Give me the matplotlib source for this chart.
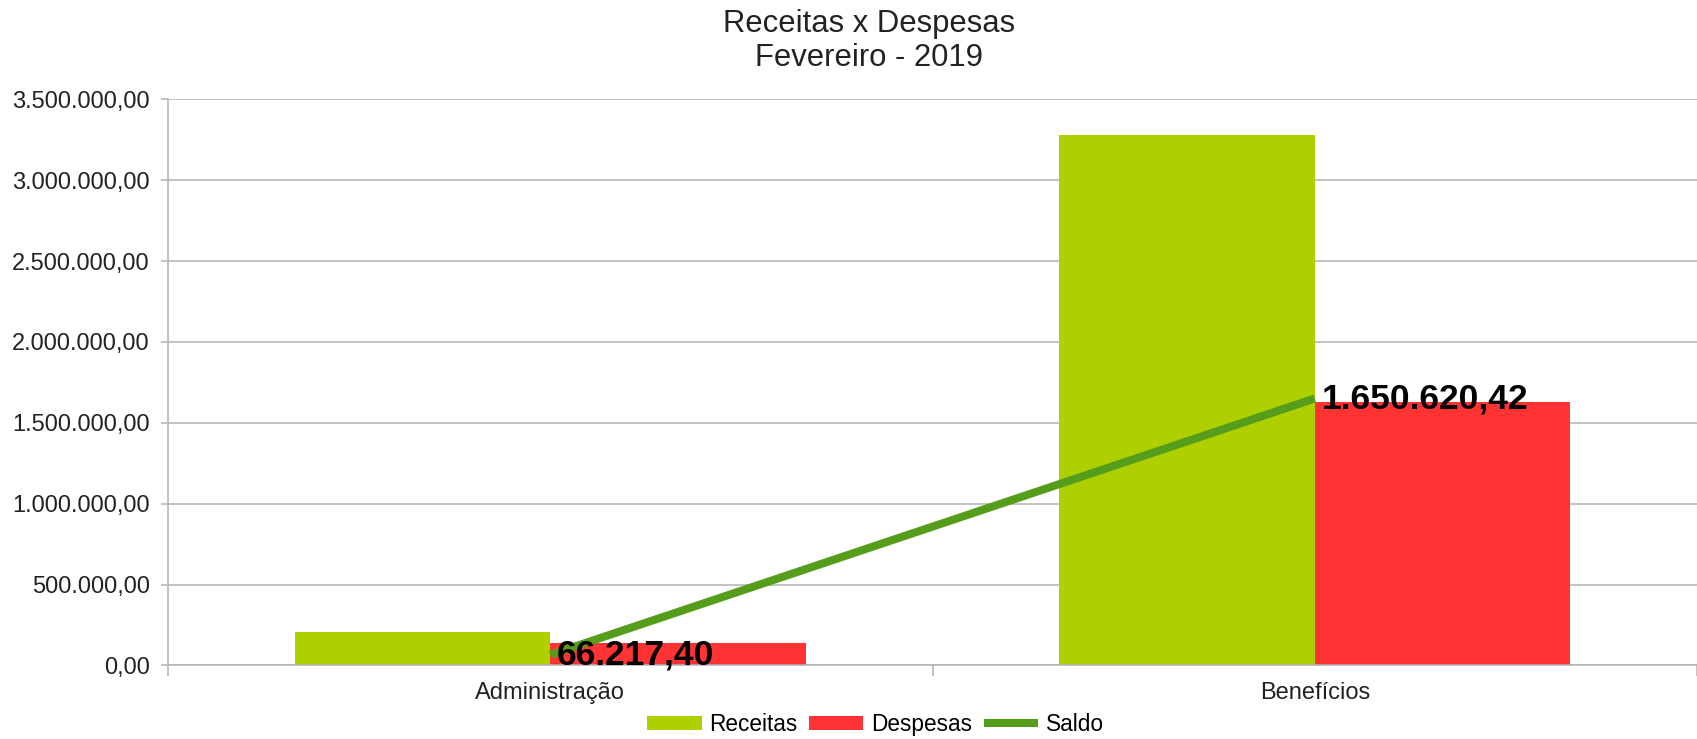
import matplotlib
matplotlib.use("Agg")
import matplotlib.pyplot as plt
from matplotlib.ticker import FuncFormatter

# ---- data ----------------------------------------------------------
categories = ["Administração", "Benefícios"]
receitas = [206000.00, 3280000.00]
despesas = [139782.60, 1629379.58]
saldo = [66217.40, 1650620.42]
saldo_labels = ["66.217,40", "1.650.620,42"]
yticks = [0, 500000, 1000000, 1500000, 2000000, 2500000, 3000000, 3500000]

C_REC = "#aecf00"
C_DES = "#ff3333"
C_SAL = "#579d1c"
GRID = "#b3b3b3"


def br(v, _pos=None):
    s = f"{v:,.2f}"
    return s.replace(",", "X").replace(".", ",").replace("X", ".")


plt.rcParams["font.family"] = ["Liberation Sans", "DejaVu Sans"]

fig = plt.figure(figsize=(16.97, 7.39), dpi=100)
ax = fig.add_axes([0.099, 0.0995, 0.901, 0.766])

x = list(range(len(categories)))
w = 0.334
b1 = ax.bar([i - w / 2 for i in x], receitas, width=w, color=C_REC, label="Receitas", zorder=2)
b2 = ax.bar([i + w / 2 for i in x], despesas, width=w, color=C_DES, label="Despesas", zorder=2)
l1, = ax.plot(x, saldo, color=C_SAL, lw=5.8, label="Saldo", zorder=3, solid_capstyle="butt")

for i, (v, lab) in enumerate(zip(saldo, saldo_labels)):
    ax.annotate(lab, (i, v), xytext=(5, 0), textcoords="offset points",
                ha="left", va="center", fontsize=25.5, fontweight="bold",
                color="black", zorder=4)

ax.set_xlim(-0.5, 1.5)
ax.set_ylim(0, 3500000)
ax.set_yticks(yticks)
ax.yaxis.set_major_formatter(FuncFormatter(br))
ax.grid(axis="y", color=GRID, lw=1.1, zorder=0)
ax.set_axisbelow(True)

ax.set_xticks(x)
ax.set_xticklabels(categories)
ax.set_xticks([-0.5, 0.5, 1.5], minor=True)
ax.tick_params(axis="x", which="major", length=0, pad=12, labelsize=17, labelcolor="#222222")
ax.tick_params(axis="x", which="minor", length=8, color=GRID, width=1.1)
ax.tick_params(axis="y", length=5, color=GRID, width=1.1, pad=8, labelsize=17, labelcolor="#222222")

for s in ["top", "right"]:
    ax.spines[s].set_visible(False)
ax.spines["left"].set_color(GRID)
ax.spines["bottom"].set_color(GRID)
ax.spines["left"].set_linewidth(1.1)
ax.spines["bottom"].set_linewidth(1.1)

fig.text(0.512, 0.988, "Receitas x Despesas\nFevereiro - 2019", ha="center", va="top",
         fontsize=22.3, color="#222222", linespacing=1.2)

fig.legend([b1, b2, l1], ["Receitas", "Despesas", "Saldo"],
           loc="lower center", bbox_to_anchor=(0.516, -0.008), ncol=3, frameon=False,
           fontsize=16.3, handlelength=2.4, handleheight=0.6, handletextpad=0.35,
           columnspacing=0.5, borderaxespad=0.0)

fig.savefig("out.png", dpi=100)
